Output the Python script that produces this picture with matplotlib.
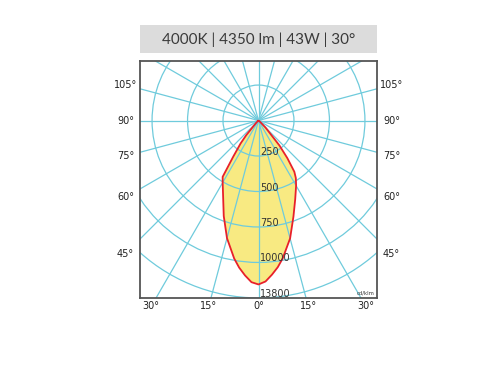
import numpy as np
import matplotlib
matplotlib.use("Agg")
import matplotlib.pyplot as plt
from matplotlib.patches import Rectangle, Circle

# luminous intensity curve (cd/klm), angle measured from nadir
angles = [-55, -50, -45, -40, -38, -35, -32.5, -30, -25, -20, -15, -10, -7.5, -5,
          -2.5, 0, 2.5, 5, 7.5, 10, 15, 20, 25, 30, 33, 35, 37.5, 40, 45, 50, 55]
intensity = [4, 8, 25, 135, 205, 310, 470, 505, 590, 716, 858, 987, 1045, 1095,
             1140, 1155, 1135, 1090, 1042, 985, 860, 720, 612, 530, 483, 440,
             334, 230, 70, 15, 4]

ring_values = [250, 500, 750, 1000, 1250]
ring_labels = ["250", "500", "750", "10000", "13800"]
side_angles = [105, 90, 75, 60, 45]
bottom_angles = [-30, -15, 0, 15, 30]
title = "4000K | 4350 lm | 43W | 30°"

grid_color = "#6fcbdc"

fig = plt.figure(figsize=(5, 3.7), dpi=100)
ax = fig.add_axes([0.28, 0.1946, 0.474, 0.6405])
ax.set_xlim(-835, 835)
ax.set_ylim(-1250, 419)
ax.set_aspect("equal")
ax.set_xticks([])
ax.set_yticks([])
for s in ax.spines.values():
    s.set_color("#555555")
    s.set_linewidth(1.3)
    s.set_zorder(10)

# intensity curve
th = np.radians(angles)
r = np.array(intensity)
xs = r * np.sin(th)
ys = -r * np.cos(th)
ax.fill(xs, ys, color="#f8ea82", zorder=1, lw=0)
ax.plot(np.append(xs, xs[0]), np.append(ys, ys[0]), color="#e8202a", lw=1.3,
        zorder=3, solid_joinstyle="round")

# polar grid, visible through the fill
for rv in ring_values + [1500]:
    ax.add_patch(Circle((0, 0), rv, fill=False, ec=grid_color, lw=0.9, zorder=2))
for a in range(0, 360, 15):
    t = np.radians(a)
    ax.plot([0, 2000 * np.sin(t)], [0, -2000 * np.cos(t)], color=grid_color,
            lw=0.9, zorder=2)

# ring labels
for rv, lab in zip(ring_values, ring_labels):
    ax.text(12, -rv + 28, lab, fontsize=7, color="#333333", ha="left",
            va="center", zorder=4)

ax.text(0.99, 0.012, "cd/klm", transform=ax.transAxes, fontsize=3.8,
        color="#333333", ha="right", va="bottom", zorder=4)

# side angle labels, placed along the radial line
xl = 937
for a in side_angles:
    t = np.radians(a)
    y = -xl * np.cos(t) / np.sin(t)
    ax.text(-xl, y, f"{a}°", fontsize=7, color="#222222", ha="center",
            va="center", clip_on=False)
    ax.text(xl, y, f"{a}°", fontsize=7, color="#222222", ha="center",
            va="center", clip_on=False)

# bottom angle labels
yb = -1310
for a in bottom_angles:
    t = np.radians(a)
    ax.text(-yb * np.tan(t), yb, f"{abs(a)}°", fontsize=7, color="#222222",
            ha="center", va="center", clip_on=False)

# title box
fig.patches.append(Rectangle((140 / 500, 1 - 52.5 / 370), 237 / 500, 27.5 / 370,
                             transform=fig.transFigure, facecolor="#dcdcdc",
                             edgecolor="none"))
fig.text(258.5 / 500, 1 - 39.5 / 370, title, fontsize=11, family="Lato",
         color="#3a3a3a", ha="center", va="center")

fig.savefig("out.png", dpi=100)
